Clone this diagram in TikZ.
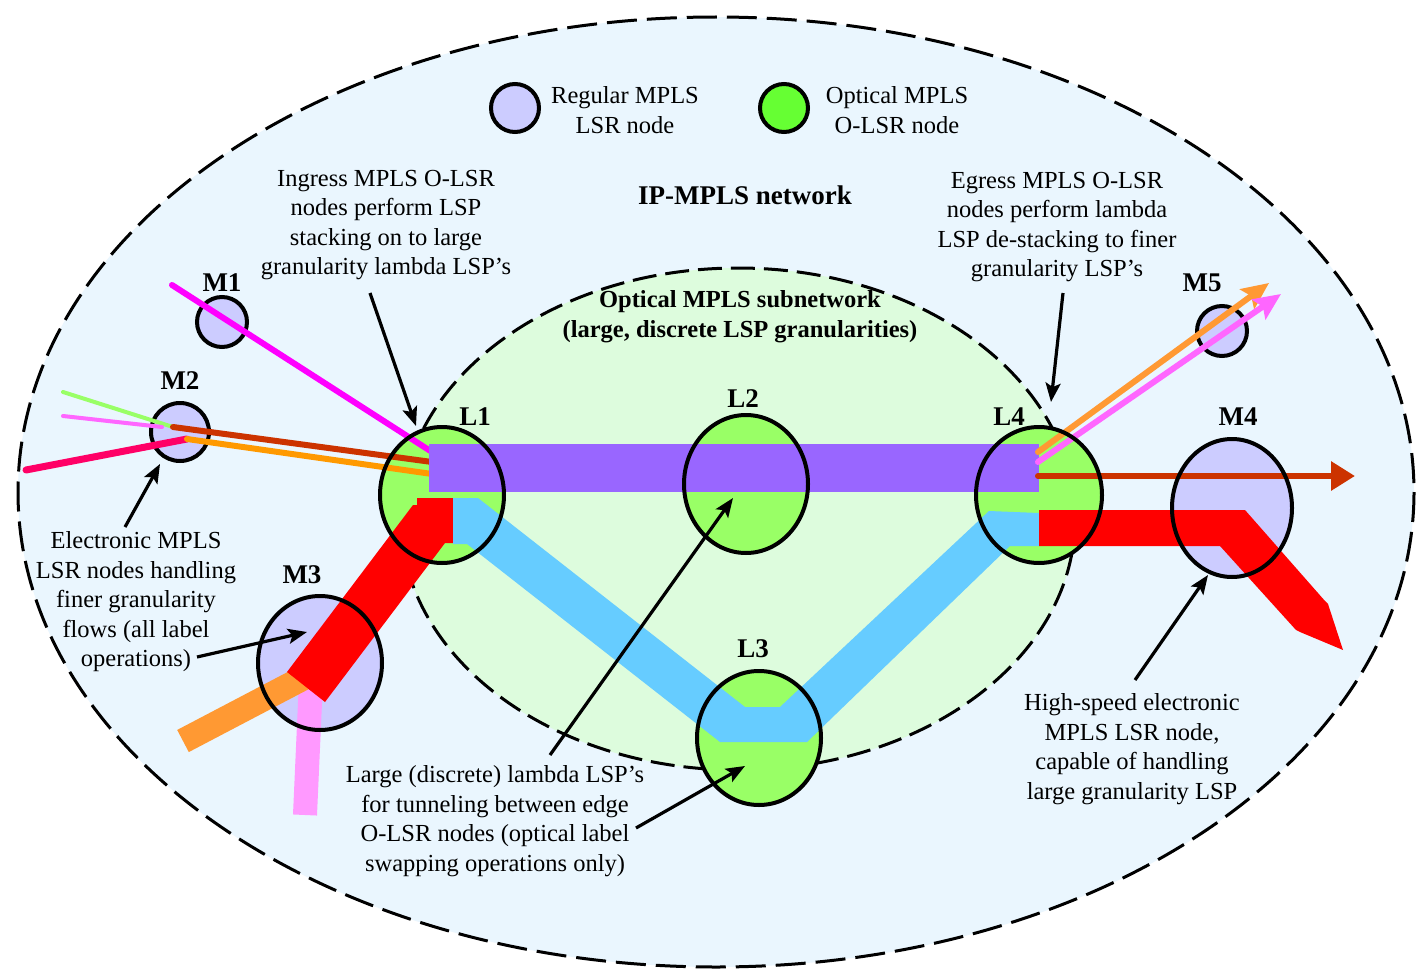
\documentclass[tikz,border=0pt]{standalone}
\usepackage{fontspec}
\setmainfont{Liberation Serif}
\usetikzlibrary{shapes.geometric,arrows.meta}
\definecolor{outerbg}{RGB}{234,246,254}
\definecolor{innerbg}{RGB}{221,252,221}
\definecolor{lav}{RGB}{204,204,255}
\definecolor{ogreen}{RGB}{153,255,102}
\definecolor{lgreen}{RGB}{102,255,51}
\definecolor{purp}{RGB}{153,102,255}
\definecolor{sky}{RGB}{102,204,255}
\definecolor{orng}{RGB}{255,153,51}
\definecolor{orng2}{RGB}{255,153,0}
\definecolor{pinkb}{RGB}{255,153,255}
\definecolor{pinkl}{RGB}{255,102,255}
\definecolor{magl}{RGB}{255,0,255}
\definecolor{brn}{RGB}{204,51,0}
\definecolor{crim}{RGB}{255,0,102}
\definecolor{lgline}{RGB}{153,255,102}
\begin{document}
\begin{tikzpicture}[x=1pt,y=-1pt,
  txt/.style={font=\fontsize{24.5}{29.5}\selectfont, align=center, inner sep=0pt},
  btxt/.style={font=\fontsize{24.5}{30}\selectfont\bfseries, align=center, inner sep=0pt},
  lbl/.style={font=\fontsize{27}{30}\selectfont\bfseries, inner sep=0pt},
  smallnode/.style={circle, draw=black, line width=4pt, fill=lav, minimum size=#1, inner sep=0pt},
  bigfill/.style={ellipse, fill=#1, inner sep=0pt, draw=none},
  bigline/.style={ellipse, draw=black, line width=4pt, inner sep=0pt},
  ann/.style={draw=black, line width=3.2pt, -{Stealth[length=19pt,width=15pt,inset=4pt]}},
  colarrow/.style={line width=6pt, line cap=round, -{Stealth[length=27pt,width=24pt,inset=5pt]}},
  flow/.style={line cap=round}
]
\useasboundingbox (0,0) rectangle (1417,974);
\fill[white] (0,0) rectangle (1417,974);

% outer network
\path[draw=black, fill=outerbg, line width=3pt, dash pattern=on 30pt off 10pt] (716,492) ellipse [x radius=698, y radius=475];
% optical subnetwork
\path[draw=black, fill=innerbg, line width=3pt, dash pattern=on 24pt off 9pt] (738,519) ellipse [x radius=337, y radius=251];

% legend
\node[circle, draw=black, line width=4pt, fill=lav, minimum size=48pt, inner sep=0pt] (legA) at (515,108) {};
\node[txt] (legAt) at (625,110) {Regular MPLS\\LSR node};
\node[circle, draw=black, line width=4pt, fill=lgreen, minimum size=48pt, inner sep=0pt] (legB) at (784,108) {};
\node[txt] (legBt) at (897,110) {Optical MPLS\\O-LSR node};

% texts
\node[btxt, font=\fontsize{27}{30}\selectfont\bfseries] (ipmpls) at (745,195) {IP-MPLS network};
\node[txt] (ingress) at (386,225) {Ingress MPLS O-LSR\\nodes perform LSP\\stacking on to large\\granularity lambda LSP’s};
\node[txt] (egress) at (1057,227) {Egress MPLS O-LSR\\nodes perform lambda\\LSP de-stacking to finer\\granularity LSP’s};
\node[btxt] (optsub) at (740,317) {Optical MPLS subnetwork\\(large, discrete LSP granularities)};
\node[txt] (electronic) at (136,602) {Electronic MPLS\\LSR nodes handling\\finer granularity\\flows (all label\\operations)};
\node[txt] (large) at (495,821) {Large (discrete) lambda LSP’s\\for tunneling between edge\\O-LSR nodes (optical label\\swapping operations only)};
\node[txt] (highspeed) at (1132,749) {High-speed electronic\\MPLS LSR node,\\capable of handling\\large granularity LSP};

% small nodes
\node[smallnode=50pt] (M1) at (222,322) {};
\node[smallnode=58pt] (M2) at (180,432) {};
\node[smallnode=50pt] (M5) at (1222,331) {};

% big node fills
\node[bigfill=ogreen, minimum width=124pt, minimum height=136pt] (L1) at (442,495) {};
\node[bigfill=ogreen, minimum width=124pt, minimum height=138pt] (L2) at (746,484) {};
\node[bigfill=ogreen, minimum width=124pt, minimum height=134pt] (L3) at (759,738) {};
\node[bigfill=ogreen, minimum width=126pt, minimum height=136pt] (L4) at (1039,495) {};
\node[bigfill=lav, minimum width=124pt, minimum height=134pt] (M3) at (320,663) {};
\node[bigfill=lav, minimum width=120pt, minimum height=138pt] (M4) at (1232,508) {};

% bands at M3
\draw[pinkb, line width=24pt] (311,680) -- (305,815);
\draw[orng, line width=25pt] (305,677) -- (183,741);
\fill[red] (417,498) -- (453,498) -- (453,543) -- (445,543) -- (325,702) -- (287,672) -- (413,505) -- (417,505) -- cycle;

% lambda LSP via L3
\fill[sky] (453,498) -- (478,498) -- (745,707) -- (780,707) -- (989,511) -- (1039,513) -- (1039,546) -- (1010,546) -- (807,742) -- (720,742) -- (467,544) -- (453,544) -- cycle;

% flows into L1
\draw[lgline, line width=4pt, flow] (63,392) -- (173,427);
\draw[pinkl, line width=4pt, flow] (63,416) -- (162,427);
\draw[crim, line width=7pt, flow] (26,470) -- (187,439);
\draw[brn, line width=6pt, flow] (173,427) -- (432,462);
\draw[orng2, line width=6pt, flow] (187,439) -- (432,474);
\draw[magl, line width=6pt, flow] (172,285) -- (432,452);

% lambda LSP via L2
\fill[purp] (429,444) rectangle (1039,492);

% flows out of L4
\draw[orng, colarrow] (1038,452) -- (1269,283);
\draw[pinkl, colarrow] (1038,462) -- (1281,294);
\draw[brn, line width=6pt, line cap=round, -{Triangle[length=24pt,width=28pt]}] (1038,476) -- (1355,476);
\fill[red] (1039,510) -- (1245,510) -- (1325,601) -- (1328,604) -- (1343,650) -- (1300,632) -- (1296,630) -- (1220,546) -- (1039,546) -- cycle;

% big node outlines
\node[bigline, minimum width=124pt, minimum height=136pt] at (L1) {};
\node[bigline, minimum width=124pt, minimum height=138pt] at (L2) {};
\node[bigline, minimum width=124pt, minimum height=134pt] at (L3) {};
\node[bigline, minimum width=126pt, minimum height=136pt] at (L4) {};
\node[bigline, minimum width=124pt, minimum height=134pt] at (M3) {};
\node[bigline, minimum width=120pt, minimum height=138pt] at (M4) {};

% labels
\node[lbl] at (222,283) {M1};
\node[lbl] at (180,381) {M2};
\node[lbl] at (302,575) {M3};
\node[lbl] at (1238,417) {M4};
\node[lbl] at (1202,283) {M5};
\node[lbl] at (475,417) {L1};
\node[lbl] at (743,399) {L2};
\node[lbl] at (753,649) {L3};
\node[lbl] at (1009,417) {L4};

% annotation arrows
\coordinate (ingT) at (370,293);
\coordinate (ingH) at (416,426);
\coordinate (egT) at (1063,293);
\coordinate (egH) at (1051,402);
\coordinate (elT1) at (125,527);
\coordinate (elH1) at (160,464);
\coordinate (elT2) at (197,657);
\coordinate (elH2) at (307,632);
\coordinate (lgT1) at (550,755);
\coordinate (lgH1) at (733,498);
\coordinate (lgT2) at (636,828);
\coordinate (lgH2) at (745,766);
\coordinate (hsT) at (1135,680);
\coordinate (hsH) at (1208,575);
\draw[ann] (ingT) -- (ingH);
\draw[ann] (egT) -- (egH);
\draw[ann] (elT1) -- (elH1);
\draw[ann] (elT2) -- (elH2);
\draw[ann] (lgT1) -- (lgH1);
\draw[ann] (lgT2) -- (lgH2);
\draw[ann] (hsT) -- (hsH);
\end{tikzpicture}
\end{document}
